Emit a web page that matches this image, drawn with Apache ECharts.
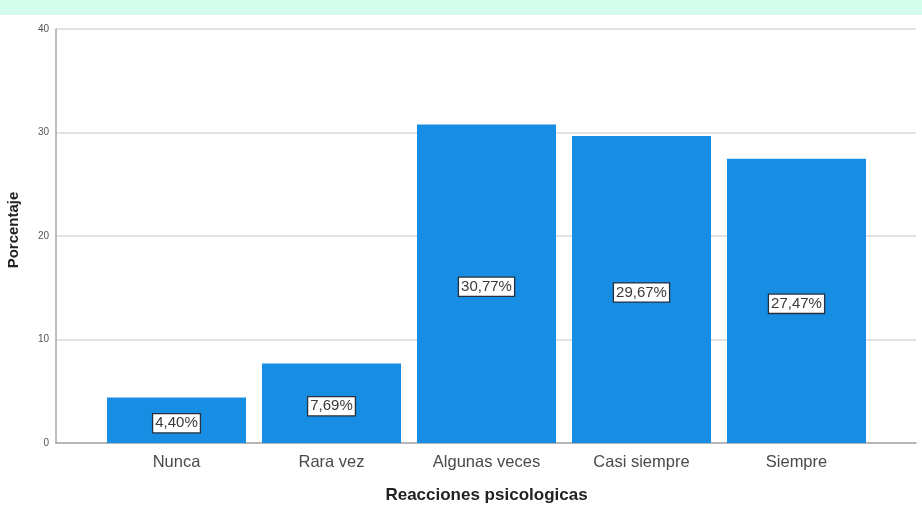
<!DOCTYPE html>
<html>
<head>
<meta charset="utf-8">
<script src="https://cdn.jsdelivr.net/npm/echarts@6/dist/echarts.min.js"></script>
<style>
  html, body { margin: 0; padding: 0; background: #ffffff; }
  #chart { width: 922px; height: 513px; }
</style>
</head>
<body>
<div id="chart"></div>
<script>
// Percentage of responses per frequency category
const categories = ['Nunca', 'Rara vez', 'Algunas veces', 'Casi siempre', 'Siempre'];
const percentages = [4.40, 7.69, 30.77, 29.67, 27.47];
const yTicks = { min: 0, max: 40, interval: 10 };

const chart = echarts.init(document.getElementById('chart'));

const font = 'Liberation Sans, Arial, sans-serif';

chart.setOption({
  backgroundColor: '#ffffff',
  animation: false,
  graphic: [{
    type: 'rect',
    shape: { x: 0, y: 0, width: 922, height: 15 },
    style: { fill: '#d4fcec' },
    silent: true
  }],
  grid: [
    // frame: y axis, gridlines and baseline across full width
    { left: 56, right: 6, top: 29, bottom: 70, outerBoundsMode: 'none', containLabel: false },
    // bars
    { left: 99, width: 775, top: 29, bottom: 70, outerBoundsMode: 'none', containLabel: false }
  ],
  xAxis: [
    {
      gridIndex: 0, type: 'category', data: [''],
      axisLine: { show: true, lineStyle: { color: '#a8a8a8', width: 1.5 } },
      axisTick: { show: false }, axisLabel: { show: false }, splitLine: { show: false }
    },
    {
      gridIndex: 1, type: 'category', data: categories,
      axisLine: { show: false }, axisTick: { show: false },
      axisLabel: { color: '#4a4a4a', fontSize: 16.5, fontFamily: font, margin: 11 },
      name: 'Reacciones psicologicas', nameLocation: 'middle', nameGap: 44,
      nameTextStyle: { color: '#222', fontSize: 17, fontWeight: 'bold', fontFamily: font }
    }
  ],
  yAxis: [
    {
      gridIndex: 0, type: 'value', min: yTicks.min, max: yTicks.max, interval: yTicks.interval,
      axisLine: { show: true, lineStyle: { color: '#a8a8a8', width: 1.5 } },
      axisTick: { show: false },
      axisLabel: { color: '#555', fontSize: 10, fontFamily: font, margin: 7 },
      splitLine: { show: true, lineStyle: { color: '#d8d8d8', width: 1.5 } },
      name: 'Porcentaje', nameLocation: 'middle', nameGap: 35, nameRotate: 90,
      nameTextStyle: { color: '#222', fontSize: 15, fontWeight: 'bold', fontFamily: font, padding: [0, 0, 0, 12] }
    },
    {
      gridIndex: 1, type: 'value', min: yTicks.min, max: yTicks.max, interval: yTicks.interval,
      show: false, splitLine: { show: false }
    }
  ],
  series: [{
    type: 'bar',
    xAxisIndex: 1, yAxisIndex: 1,
    data: percentages,
    barCategoryGap: '10.3%',
    itemStyle: { color: '#178de4' },
    label: {
      show: true,
      position: 'inside',
      formatter: p => p.value.toFixed(2).replace('.', ',') + '%',
      color: '#3a3a3a',
      fontSize: 15,
      fontFamily: font,
      backgroundColor: '#ffffff',
      borderColor: '#24303c',
      borderWidth: 1.3,
      padding: [2, 2, 1, 2],
      offset: [0, 3]
    }
  }]
});
</script>
</body>
</html>
